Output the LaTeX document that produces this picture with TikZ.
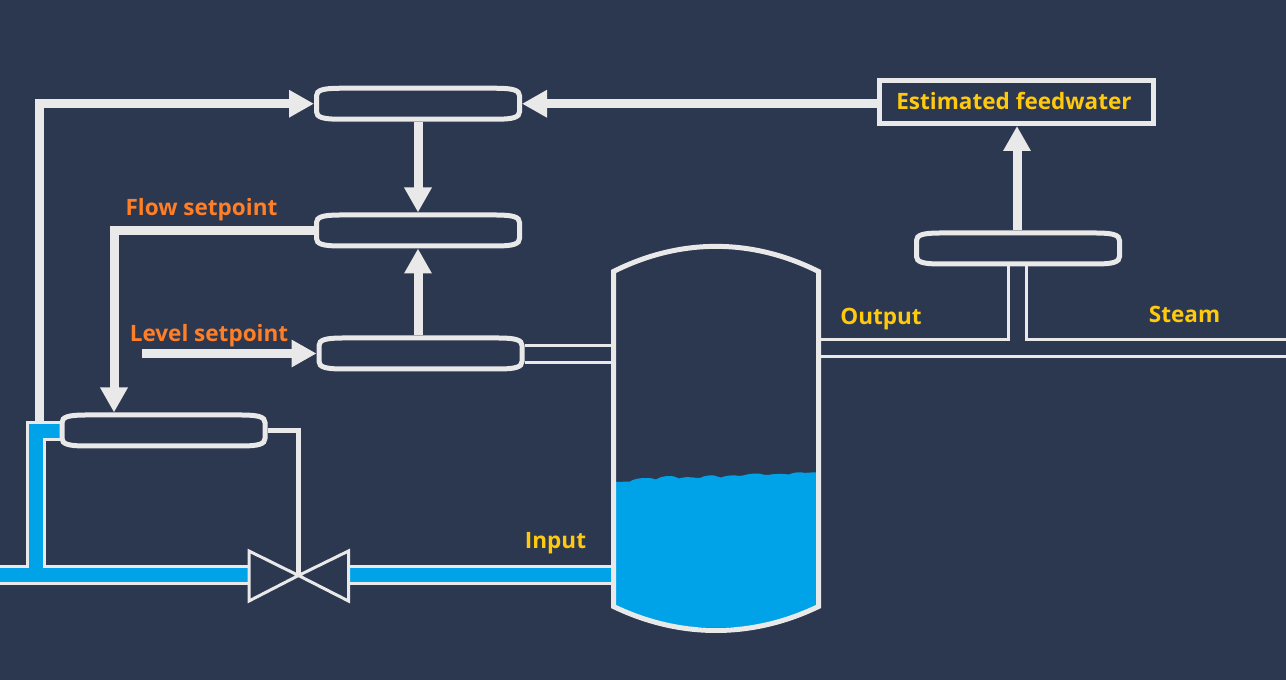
\documentclass[tikz,border=0pt]{standalone}
\usepackage{fontspec}
\setmainfont{Open Sans}
\usetikzlibrary{arrows.meta}
\definecolor{bgc}{HTML}{2C3750}
\definecolor{wht}{HTML}{E9E9E9}
\definecolor{wat}{HTML}{00A2E8}
\definecolor{ylw}{HTML}{FFC90E}
\definecolor{org}{HTML}{FF7F27}
\tikzset{
  ctrlbox/.style={rectangle,minimum width=156pt,minimum height=27pt,inner sep=0pt,outer sep=0pt},
  outline/.style={draw=wht,line width=3.75pt},
  flow/.style={draw=wht,line width=6.75pt,-{Triangle[length=18.75pt,width=19.5pt]}},
  pipe/.style={draw=wht,line width=2.25pt},
  stem/.style={draw=wht,line width=3.25pt},
  vesselline/.style={draw=wht,line width=3.75pt,line join=miter},
  ylab/.style={text=ylw,font=\bfseries\fontsize{16.9}{18}\selectfont,inner sep=0pt,anchor=base},
  olab/.style={text=org,font=\bfseries\fontsize{16.9}{18}\selectfont,inner sep=0pt,anchor=base},
}
\newcommand{\ctrlunit}[3]{%
  \node[ctrlbox] (#1) at (#2,#3) {};
  \draw[outline,shift={(#2,#3)}] (-101.5,-8) .. controls (-101.5,-13.5) and (-95,-15.5) .. (-78,-15.5)
    -- (78,-15.5) .. controls (95,-15.5) and (101.5,-13.5) .. (101.5,-8)
    -- (101.5,8) .. controls (101.5,13.5) and (95,15.5) .. (78,15.5)
    -- (-78,15.5) .. controls (-95,15.5) and (-101.5,13.5) .. (-101.5,8) -- cycle;
}
\begin{document}
\begin{tikzpicture}[x=0.75pt,y=-0.75pt]
\fill[bgc] (0,0) rectangle (1286,680);
\useasboundingbox (0,0) rectangle (1286,680);
% liquid
\fill[wat] (616,606) -- (616,482) -- (630,481.5)
  .. controls (634,479) and (638,478) .. (648,478)
  .. controls (652,478) and (654,479) .. (656,479.5)
  .. controls (660,477) and (664,476) .. (670,476)
  .. controls (675,476) and (677,478) .. (679,478.5)
  .. controls (683,477) and (688,477) .. (693,477.5)
  .. controls (696,478) and (698,478) .. (700,478)
  .. controls (704,476) and (708,475) .. (714,475.5)
  .. controls (717,476) and (719,477.5) .. (721,477.5)
  .. controls (725,476) and (730,475) .. (736,475.5)
  .. controls (738,476) and (740,476) .. (743,475.5)
  .. controls (748,474) and (752,473.5) .. (758,473.5)
  .. controls (762,474) and (765,475.5) .. (768,475)
  .. controls (772,474) and (780,473.5) .. (789,474.5)
  .. controls (793,472.5) and (798,472) .. (802,472.5)
  .. controls (806,473.5) and (810,472) .. (816,472.5)
  -- (816,606) .. controls (780,635) and (652,635) .. (616,606) -- cycle;
% process pipe water
\fill[wat] (0,568) -- (29,568) -- (29,424) -- (60,424) -- (60,438) -- (43,438) -- (43,568) -- (248,568) -- (248,582) -- (0,582) -- cycle;
\fill[wat] (350,568) rectangle (612,582);
% nodes
\node[inner sep=0pt,outer sep=0pt,minimum width=157.5pt,minimum height=288pt] (vessel) at (716,438) {};
\node[draw=wht,line width=3.5pt,minimum width=205.7pt,minimum height=32.5pt,inner sep=0pt,outer sep=1.75pt] (est) at (1016.5,102) {};
\node[ylab] (estl) at (1014,110) {Estimated feedwater};
\ctrlunit{boxa}{418}{103.75}
\ctrlunit{boxb}{418}{230.5}
\ctrlunit{boxc}{420.5}{353.5}
\ctrlunit{boxd}{163.5}{430.5}
\ctrlunit{boxe}{1018}{248.5}
\node[inner sep=0pt,outer sep=0pt,minimum size=1pt] (valve) at (298.5,575.5) {};
% valve
\draw[pipe,line join=miter] (valve.center) -- (249,551) -- (249,601) -- cycle;
\draw[pipe,line join=miter] (valve.center) -- (348.5,551) -- (348.5,601) -- cycle;
% coordinates
\coordinate (lt) at (0,566.5);
\coordinate (lb) at (0,583.5);
\coordinate (vl) at (249,0);
\coordinate (vr) at (348.5,0);
\coordinate (upa) at (27.5,422.5);
\coordinate (upb) at (44.5,439.5);
\coordinate (ra) at (1286,340);
\coordinate (rb) at (1286,356.5);
\coordinate (sa) at (0,345.5);
\coordinate (sb) at (0,362.5);
\coordinate (oa) at (1008.5,0);
\coordinate (ob) at (1026,0);
\coordinate (la) at (39.5,422);
\coordinate (lo) at (39.5,103.75);
\coordinate (fa) at (114,0);
\coordinate (sp) at (142,353.5);
\coordinate (ua) at (1017,0);
\coordinate (uc) at (418,0);
% pipes
\draw[pipe] (lt) -| (upa) -- (upa -| boxd.west);
\draw[pipe] (upb -| boxd.west) -- (upb) |- (vl |- lt);
\draw[pipe] (lb) -- (vl |- lb);
\draw[pipe] (vr |- lt) -- (vessel.west |- lt);
\draw[pipe] (vr |- lb) -- (vessel.west |- lb);
\draw[pipe] (boxc.east |- sa) -- (vessel.west |- sa);
\draw[pipe] (boxc.east |- sb) -- (vessel.west |- sb);
\draw[pipe] (vessel.east |- ra) -- (oa |- ra) -- (oa |- boxe.south);
\draw[pipe] (ob |- boxe.south) -- (ob |- ra) -- (ra);
\draw[pipe] (vessel.east |- rb) -- (rb);
\draw[stem] (boxd.east) -| (valve.center);
% vessel
\draw[vesselline] (613.5,606.5) -- (613.5,271.5) .. controls (680,238) and (752,238) .. (818.5,271.5) -- (818.5,606.5)
  .. controls (752,638.5) and (680,638.5) .. (613.5,606.5) -- cycle;
% arrows
\draw[flow] (est.west |- boxa.east) -- (boxa.east);
\draw[flow] (la) -- (lo) -- (boxa.west);
\draw[flow] (uc |- boxa.south) -- (uc |- boxb.north);
\draw[flow] (uc |- boxc.north) -- (uc |- boxb.south);
\draw[flow] (boxb.west) -| (fa |- boxd.north);
\draw[flow] (sp) -- (boxc.west);
\draw[flow] (ua |- boxe.north) -- (ua |- est.south);
% labels
\node[olab] (fs) at (201.5,216) {Flow setpoint};
\node[olab] (ls) at (209,342) {Level setpoint};
\node[ylab] (ou) at (881,324.5) {Output};
\node[ylab] (st) at (1184.5,322.7) {Steam};
\node[ylab] (in) at (555.5,549) {Input};
\end{tikzpicture}
\end{document}
